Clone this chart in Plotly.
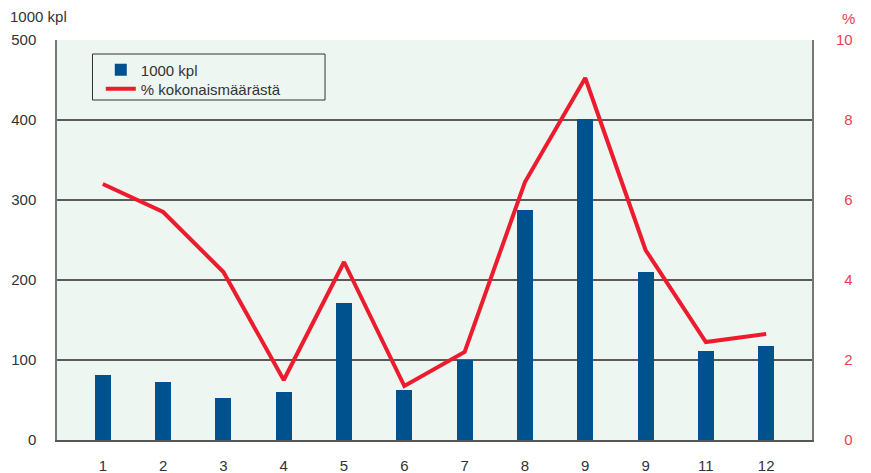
import plotly.graph_objects as go

# kuukaudet (alkuperäisessä kuvassa "9" toistuu)
kuukaudet = ["1", "2", "3", "4", "5", "6", "7", "8", "9", "9", "11", "12"]
kpl_1000 = [81, 72, 53, 60, 171, 62, 100, 287, 401, 210, 111, 117]
osuus_pct = [6.4, 5.7, 4.2, 1.5, 4.45, 1.35, 2.2, 6.45, 9.05, 4.75, 2.45, 2.65]
vasen_ticks = [0, 100, 200, 300, 400, 500]
oikea_ticks = [0, 2, 4, 6, 8, 10]

pos = list(range(len(kuukaudet)))
sininen = "#00528f"
punainen = "#ec1c2e"
teksti = "#333333"
oikea_vari = "#e8414e"
fontti = "Liberation Sans, Arial, sans-serif"

# oikean akselin luvut tasataan oikealle näkymättömällä numerolla
oikea_teksti = [str(v) if v >= 10 else "<span style='color:#ffffff'>0</span>" + str(v)
                for v in oikea_ticks]

fig = go.Figure()
fig.add_trace(go.Bar(x=pos, y=kpl_1000, name="1000 kpl", width=0.265, legend="legend",
                     marker=dict(color=sininen, line=dict(width=0))))
fig.add_trace(go.Scatter(x=pos, y=osuus_pct, name="% kokonaismäärästä", yaxis="y2",
                         legend="legend2", mode="lines",
                         line=dict(color=punainen, width=4)))

leg = dict(xanchor="left", yanchor="middle", bgcolor="rgba(0,0,0,0)", borderwidth=0,
           font=dict(size=15, color=teksti))

# sivun body-marginaali (8 px) huomioitu koossa
fig.update_layout(
    width=863, height=465,
    margin=dict(l=49, r=59, t=32, b=33, autoexpand=False),
    paper_bgcolor="white",
    plot_bgcolor="#edf6f0",
    font=dict(family=fontti, size=15, color=teksti),
    showlegend=True,
    legend=dict(x=0.058, y=0.925, **leg),
    legend2=dict(x=0.058, y=0.8775, **leg),
    xaxis=dict(range=[-0.76, 11.76], tickvals=pos, ticktext=kuukaudet, automargin=False,
               showgrid=False, zeroline=False, showline=True, linecolor="#555555",
               linewidth=2, mirror=False, ticks="", ticklabelstandoff=11,
               tickfont=dict(size=15, color=teksti)),
    yaxis=dict(range=[0, 500], tickvals=vasen_ticks, showgrid=True, automargin=False,
               gridcolor="#5a5a5a", gridwidth=2, zeroline=False,
               showline=True, linecolor="#777777", linewidth=1.5, mirror=True,
               ticks="", ticklabelstandoff=16, tickfont=dict(size=15, color=teksti)),
    yaxis2=dict(range=[0, 10], tickvals=oikea_ticks, ticktext=oikea_teksti,
                automargin=False, overlaying="y", side="right", showgrid=False,
                zeroline=False, showline=False, ticks="outside", ticklen=20,
                tickcolor="rgba(0,0,0,0)", tickfont=dict(size=15, color=oikea_vari)),
    bargap=0,
)

# legendan kehys
fig.add_shape(type="rect", xref="paper", yref="paper",
              x0=0.047, x1=0.355, y0=0.85, y1=0.965,
              line=dict(color="#333333", width=1), fillcolor="rgba(0,0,0,0)")

fig.add_annotation(text="1000 kpl", xref="paper", yref="paper", x=-0.065, y=1.058,
                   xanchor="left", yanchor="middle", showarrow=False,
                   font=dict(size=15, color=teksti))
fig.add_annotation(text="%", xref="paper", yref="paper", x=1.048, y=1.055,
                   xanchor="center", yanchor="middle", showarrow=False,
                   font=dict(size=15, color=oikea_vari))

fig.write_html("out.html")
